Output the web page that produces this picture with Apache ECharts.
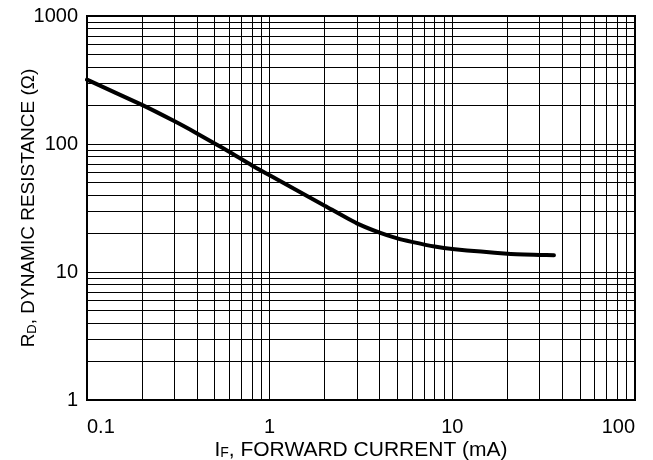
<!DOCTYPE html>
<html>
<head>
<meta charset="utf-8">
<script src="https://cdn.jsdelivr.net/npm/echarts@6/dist/echarts.min.js"></script>
<style>
html,body{margin:0;padding:0;background:#fff;}
#c{width:653px;height:460px;}
</style>
</head>
<body>
<div id="c"></div>
<script>
// Forward current (mA) and dynamic resistance (ohm)
const currentMA = [0.1, 0.2, 0.3, 0.4, 0.5, 0.6, 0.8, 1, 2, 3, 4, 5, 6, 8, 10, 20, 30, 36];
const resistance = [318, 202, 151, 121, 101, 87, 68, 57, 33, 24, 20.3, 18.3, 17.2, 15.8, 15.1, 13.9, 13.6, 13.5];

// Axis ranges and log-grid definition
const xRange = [0.1, 100];
const yRange = [1, 1000];
const xDecades = [0.1, 1, 10];
const yDecades = [1, 10, 100];
const minorMultipliers = [2, 3, 4, 5, 6, 7, 8, 9];

const xTitle = '{n|I}{s|F}{n|, FORWARD CURRENT (mA)}';
const yTitle = '{n|R}{s|D}{n|, DYNAMIC RESISTANCE (Ω)}';

const FONT = '"Liberation Sans", Arial, Helvetica, sans-serif';

const minorX = [];
xDecades.forEach(d => minorMultipliers.forEach(m => minorX.push(+(d * m).toPrecision(6))));
const minorY = [];
yDecades.forEach(d => minorMultipliers.forEach(m => minorY.push(+(d * m).toPrecision(6))));

const points = currentMA.map((x, i) => [x, resistance[i]]);

function titleRich(size, subSize) {
  return {
    n: {fontFamily: FONT, fontSize: size, color: '#000', lineHeight: 20, verticalAlign: 'top'},
    s: {fontFamily: FONT, fontSize: subSize, color: '#000', lineHeight: 13, padding: [10, 0, 0, 0], verticalAlign: 'bottom'}
  };
}

const chart = echarts.init(document.getElementById('c'), null, {renderer: 'canvas'});
chart.setOption({
  animation: false,
  backgroundColor: '#fff',
  grid: {left: 87, right: 18, top: 16, bottom: 60, show: true, borderColor: '#000', borderWidth: 2,
         containLabel: false, outerBoundsMode: 'none'},
  xAxis: {
    type: 'log', logBase: 10, min: xRange[0], max: xRange[1],
    axisLine: {show: true, lineStyle: {color: '#000', width: 2}},
    axisTick: {show: false},
    splitLine: {show: true, lineStyle: {color: '#000', width: 1}},
    axisLabel: {
      fontFamily: FONT, fontSize: 20, color: '#000', margin: 17,
      alignMinLabel: 'left', alignMaxLabel: 'right',
      formatter: v => String(+(+v).toPrecision(6))
    },
    name: xTitle, nameLocation: 'middle', nameGap: 40, nameMoveOverlap: false,
    nameTextStyle: {rich: titleRich(21, 14)}
  },
  yAxis: {
    type: 'log', logBase: 10, min: yRange[0], max: yRange[1],
    axisLine: {show: true, lineStyle: {color: '#000', width: 2}},
    axisTick: {show: false},
    splitLine: {show: true, lineStyle: {color: '#000', width: 1}},
    axisLabel: {
      fontFamily: FONT, fontSize: 20, color: '#000', margin: 9,
      formatter: v => String(+(+v).toPrecision(6))
    },
    name: yTitle, nameLocation: 'middle', nameGap: 48, nameRotate: 90, nameMoveOverlap: false,
    nameTextStyle: {rich: titleRich(19, 13)}
  },
  series: [
    {
      type: 'line', data: [], silent: true, z: 1,
      markLine: {
        silent: true, symbol: 'none', animation: false,
        label: {show: false},
        lineStyle: {color: '#000', width: 1, type: 'solid'},
        emphasis: {disabled: true},
        data: minorX.map(v => ({xAxis: v})).concat(minorY.map(v => ({yAxis: v})))
      }
    },
    {
      type: 'line', data: points, smooth: 0.2, symbol: 'none', z: 5,
      lineStyle: {color: '#000', width: 4, cap: 'round'}
    }
  ]
});
</script>
</body>
</html>
